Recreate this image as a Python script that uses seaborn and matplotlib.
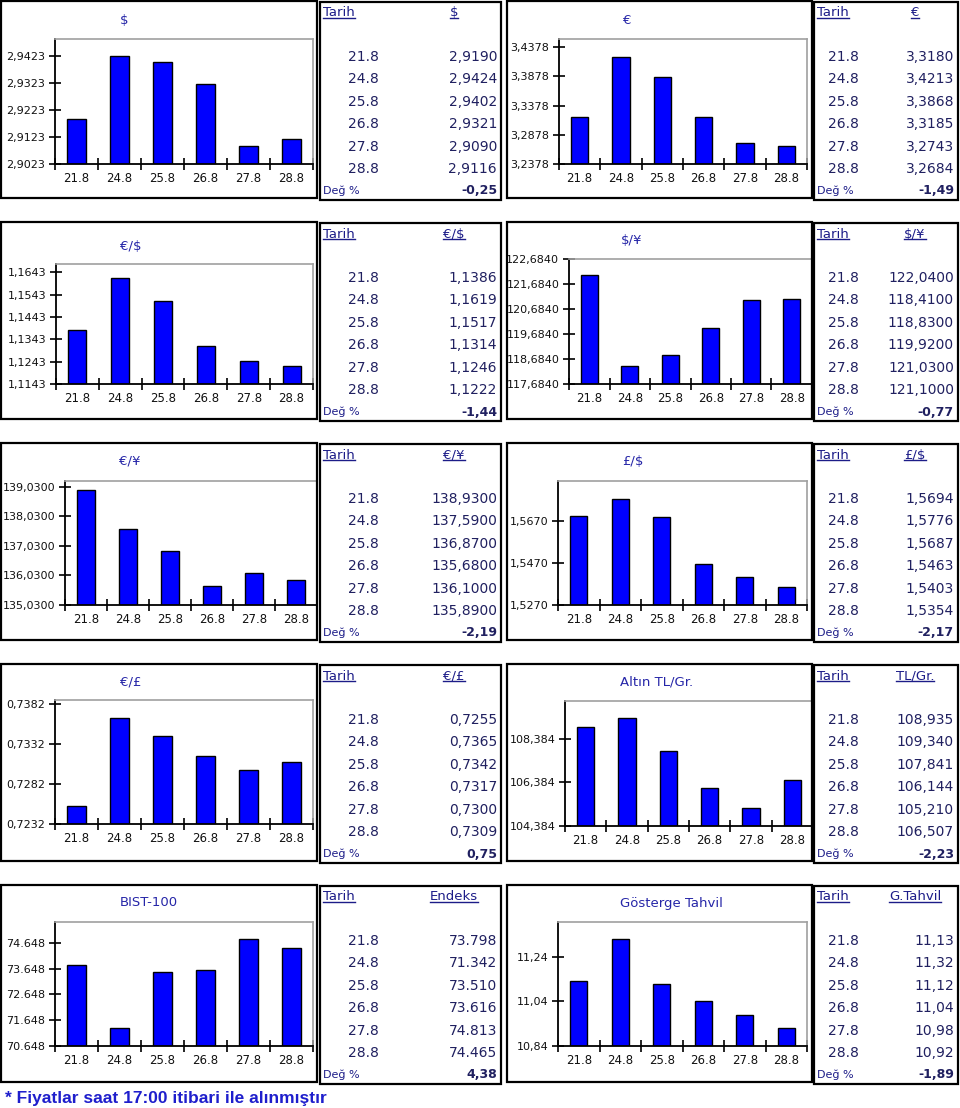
import matplotlib
matplotlib.use("Agg")
import matplotlib.pyplot as plt
from matplotlib.patches import Rectangle
from matplotlib.lines import Line2D
import numpy as np
import seaborn as sns

# ---- data -------------------------------------------------------------
dates = ["21.8", "24.8", "25.8", "26.8", "27.8", "28.8"]

titles = ["$", "€", "€/$", "$/¥", "€/¥", "£/$", "€/£", "Altın TL/Gr.", "BIST-100", "Gösterge Tahvil"]
headers = ["$", "€", "€/$", "$/¥", "€/¥", "£/$", "€/£", "TL/Gr.", "Endeks", "G.Tahvil"]

usd = [2.9190, 2.9424, 2.9402, 2.9321, 2.9090, 2.9116]
eur = [3.3180, 3.4213, 3.3868, 3.3185, 3.2743, 3.2684]
eur_usd = [1.1386, 1.1619, 1.1517, 1.1314, 1.1246, 1.1222]
usd_jpy = [122.04, 118.41, 118.83, 119.92, 121.03, 121.10]
eur_jpy = [138.93, 137.59, 136.87, 135.68, 136.10, 135.89]
gbp_usd = [1.5694, 1.5776, 1.5687, 1.5463, 1.5403, 1.5354]
eur_gbp = [0.7255, 0.7365, 0.7342, 0.7317, 0.7300, 0.7309]
gold = [108.935, 109.340, 107.841, 106.144, 105.210, 106.507]
bist = [73798, 71342, 73510, 73616, 74813, 74465]
bond = [11.13, 11.32, 11.12, 11.04, 10.98, 10.92]
series = [usd, eur, eur_usd, usd_jpy, eur_jpy, gbp_usd, eur_gbp, gold, bist, bond]

changes = [-0.25, -1.49, -1.44, -0.77, -2.19, -2.17, 0.75, -2.23, 4.38, -1.89]
table_decimals = [4, 4, 4, 4, 4, 4, 4, 3, 0, 2]

# y axis: first tick, step, tick count, axis top
y_first = [2.9023, 3.2378, 1.1143, 117.684, 135.03, 1.527, 0.7232, 104.384, 70648, 10.84]
y_step = [0.01, 0.05, 0.01, 1, 1, 0.02, 0.005, 2, 1000, 0.2]
y_count = [5, 5, 6, 6, 5, 3, 4, 3, 5, 3]
y_top = [2.9486, 3.4515, 1.1681, 122.684, 139.23, 1.586, 0.7387, 110.13, 75463, 11.397]
tick_decimals = [4, 4, 4, 4, 4, 4, 4, 3, 0, 2]

footnote = "* Fiyatlar saat 17:00 itibari ile alınmıştır"

# ---- layout (pixels) --------------------------------------------------
W, H = 960, 1108
row_tops = [0, 221, 442, 663, 884]
# per panel: axes left, right, top(rel), bottom(rel), title x, title y(rel)
ax_layout = [
    (55, 313, 39, 164, 124, 20), (559, 807, 39, 164, 627, 20),
    (56, 313, 43, 163, 131, 25), (569, 812, 38, 163, 632, 19),
    (65, 317, 39, 163, 130, 19), (558, 807, 39, 163, 633, 20),
    (55, 313, 37, 161, 131, 19), (565, 813, 38, 163, 657, 19),
    (55, 313, 38, 162, 149, 19), (558, 807, 38, 162, 671, 19),
]
chart_box_x = [(1, 317), (507, 812)]
table_box_x = [(320, 501), (814, 958)]
tarih_x = [323, 817]
head2_x = [454, 915]
date_x = [379, 859]
val_x = [497, 954]

TXT = "#202060"
HEAD = "#1c1c88"
TITLE = "#2626a8"


def tr(v, d):
    s = f"{v:,.{d}f}"
    return s.replace(",", "#").replace(".", ",").replace("#", ".")


def fx(x):
    return x / W


def fy(y):
    return 1 - y / H


fig = plt.figure(figsize=(9.6, 11.08), dpi=100)
fig.patch.set_facecolor("white")

underlined = []
for i in range(10):
    row, col = divmod(i, 2)
    top = row_tops[row]
    l, r, t, b, tx, ty = ax_layout[i]

    # outer boxes
    x0, x1 = chart_box_x[col]
    fig.add_artist(Rectangle((fx(x0), fy(top + 198)), fx(x1 - x0), (197) / H,
                             transform=fig.transFigure, fill=False, ec="black", lw=1.6))
    x0, x1 = table_box_x[col]
    fig.add_artist(Rectangle((fx(x0), fy(top + 200)), fx(x1 - x0), (198) / H,
                             transform=fig.transFigure, fill=False, ec="black", lw=1.6))

    # chart
    ax = fig.add_axes([fx(l), fy(top + b), fx(r - l), (b - t) / H])
    sns.barplot(x=dates, y=series[i], color="#0000ff", saturation=1, width=0.42,
                edgecolor="black", linewidth=1.0, ax=ax)
    ax.set_xlim(-0.5, 5.5)
    ax.set_ylim(y_first[i], y_top[i])
    yt = [y_first[i] + k * y_step[i] for k in range(y_count[i])]
    ax.set_yticks(yt)
    ax.set_yticklabels([tr(v, tick_decimals[i]) for v in yt])
    ax.set_xticks(range(6))
    ax.set_xticks(np.arange(-0.5, 6.0, 1.0), minor=True)
    ax.tick_params(axis="x", which="major", length=0, labelsize=8.5, pad=6, labelcolor="#111111")
    ax.tick_params(axis="x", which="minor", length=8, direction="inout", width=1.2)
    ax.tick_params(axis="y", length=8, direction="inout", width=1.2, labelsize=8,
                   labelcolor="#111111", pad=3)
    ax.set_xlabel("")
    ax.set_ylabel("")
    for s in ["top", "right"]:
        ax.spines[s].set_color("#a0a0a0")
        ax.spines[s].set_linewidth(1.2)
    for s in ["left", "bottom"]:
        ax.spines[s].set_color("black")
        ax.spines[s].set_linewidth(1.3)
    fig.text(fx(tx), fy(top + ty), titles[i], color=TITLE, fontsize=9.5,
             ha="center", va="center")

    # table
    t1 = fig.text(fx(tarih_x[col]), fy(top + 13), "Tarih", color=HEAD, fontsize=9.5,
                  ha="left", va="center")
    t2 = fig.text(fx(head2_x[col]), fy(top + 13), headers[i], color=HEAD, fontsize=9.5,
                  ha="center", va="center")
    underlined += [t1, t2]
    for k, d in enumerate(dates):
        yy = fy(top + 57 + 22.4 * k)
        fig.text(fx(date_x[col]), yy, d, color=TXT, fontsize=10, ha="right", va="center")
        fig.text(fx(val_x[col]), yy, tr(series[i][k], table_decimals[i]), color=TXT,
                 fontsize=10, ha="right", va="center")
    fig.text(fx(tarih_x[col]), fy(top + 191), "Değ %", color=HEAD, fontsize=8,
             ha="left", va="center")
    fig.text(fx(val_x[col]), fy(top + 191), tr(changes[i], 2), color=TXT, fontsize=9,
             fontweight="bold", ha="right", va="center")

fig.text(fx(5), fy(1098), footnote, color="#1e1ecc", fontsize=12.5, fontweight="bold",
         family=["Liberation Sans", "DejaVu Sans"], ha="left", va="center")

# underline table headers
fig.canvas.draw()
renderer = fig.canvas.get_renderer()
inv = fig.transFigure.inverted()
for t in underlined:
    bb = t.get_window_extent(renderer).transformed(inv)
    yl = bb.y0 + 1.5 / H
    fig.add_artist(Line2D([bb.x0, bb.x1], [yl, yl], transform=fig.transFigure,
                          color=HEAD, lw=1.0))

fig.savefig("out.png", dpi=100, facecolor="white")
